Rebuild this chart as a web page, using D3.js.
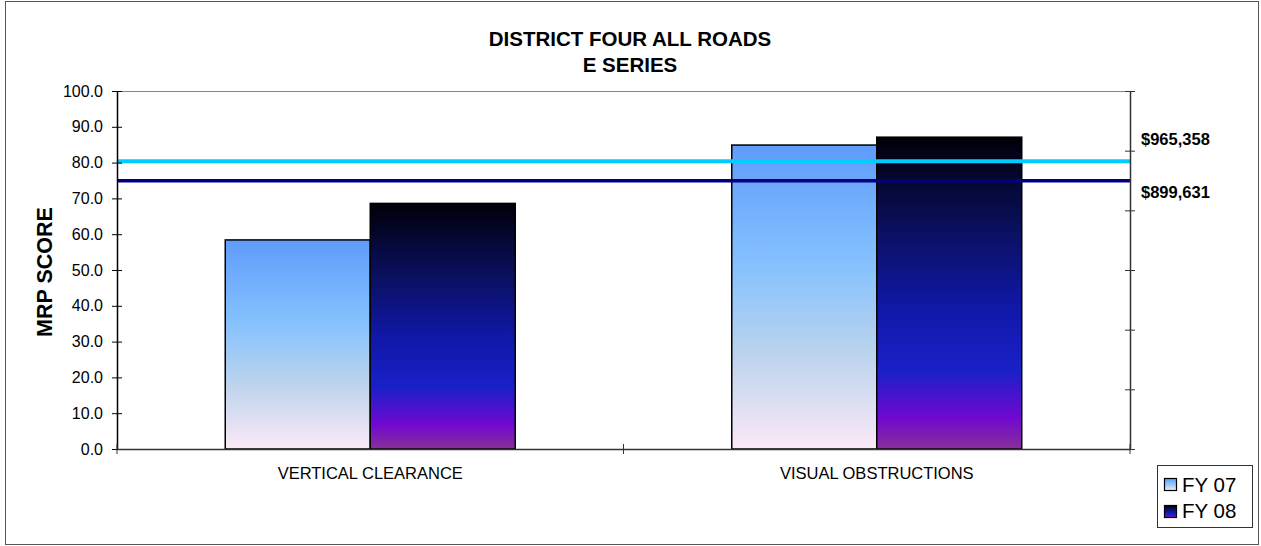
<!DOCTYPE html>
<html><head><meta charset="utf-8">
<script src="https://cdn.jsdelivr.net/npm/d3@7"></script>
<style>body{margin:0;background:#fff}svg{display:block;font-family:"Liberation Sans",Arial,sans-serif}</style>
</head><body>
<svg id="c" width="1261" height="546"></svg>
<script>
const categories = ["VERTICAL CLEARANCE", "VISUAL OBSTRUCTIONS"];
const seriesNames = ["FY 07", "FY 08"];
const fy07 = [58.4, 84.9];
const fy08 = [68.6, 87.1];
const refValues = [80.4, 74.9];
const refLabels = ["$965,358", "$899,631"];
const yTicks = [0,10,20,30,40,50,60,70,80,90,100];
const titleLines = ["DISTRICT FOUR ALL ROADS", "E SERIES"];

const svg = d3.select("#c");
const L = 117, R = 1130, T = 91, B = 449;
const FF = "'Liberation Sans',Arial,sans-serif";

// outer frame
svg.append("rect").attr("x",5.5).attr("y",1.5).attr("width",1253).attr("height",543)
  .attr("fill","#fff").attr("stroke","#555").attr("stroke-width",1);

const defs = svg.append("defs");
const g1 = defs.append("linearGradient").attr("id","g07").attr("x1",0).attr("y1",0).attr("x2",0).attr("y2",1);
[[0,"#5f9cfc"],[0.4,"#86c2fe"],[0.7,"#bed4ec"],[1,"#fbe9f7"]].forEach(s=>g1.append("stop").attr("offset",s[0]).attr("stop-color",s[1]));
const g2 = defs.append("linearGradient").attr("id","g08").attr("x1",0).attr("y1",0).attr("x2",0).attr("y2",1);
[[0,"#000008"],[0.3,"#0a1060"],[0.55,"#1018a8"],[0.75,"#1a20c8"],[0.9,"#7008d0"],[1,"#883098"]].forEach(s=>g2.append("stop").attr("offset",s[0]).attr("stop-color",s[1]));

const x0 = d3.scaleBand().domain(categories).range([L,R]).paddingInner(0).paddingOuter(0);
const y = d3.scaleLinear().domain([0,100]).range([B,T]);
const barW = 145;
const x1 = d3.scaleBand().domain(seriesNames).range([0, barW*2]);

// plot top border
svg.append("line").attr("x1",L).attr("x2",R).attr("y1",T+0.5).attr("y2",T+0.5).attr("stroke","#888");

const data = [fy07, fy08];
const fills = ["url(#g07)","url(#g08)"];
seriesNames.forEach((s,si)=>{
  svg.append("g").selectAll("rect").data(categories).join("rect")
    .attr("x", c => x0(c) + (x0.bandwidth()-barW*2)/2 + x1(s))
    .attr("y", (c,i) => y(data[si][i]))
    .attr("width", x1.bandwidth())
    .attr("height", (c,i) => B - y(data[si][i]))
    .attr("fill", fills[si]).attr("stroke","#000").attr("stroke-width",1.5);
});

// reference lines
const refColors = ["#00ccff","#000080"];
refValues.forEach((v,i)=>{
  svg.append("line").attr("x1",L).attr("x2",R).attr("y1",y(v)).attr("y2",y(v))
    .attr("stroke",refColors[i]).attr("stroke-width",i===0?4:3.5);
});
svg.append("text").attr("x",1141).attr("y",145).attr("font-size",16.5).attr("font-weight","bold").text(refLabels[0]);
svg.append("text").attr("x",1141).attr("y",198).attr("font-size",16.5).attr("font-weight","bold").text(refLabels[1]);

// left axis
const yAxis = svg.append("g").attr("transform",`translate(${L},0)`)
  .call(d3.axisLeft(y).tickValues(yTicks).tickFormat(d3.format(".1f")).tickSize(0).tickPadding(14));
yAxis.select(".domain").attr("stroke","#000").attr("stroke-width",1.5);
yAxis.selectAll("text").attr("font-size",16).attr("fill","#000").attr("font-family",FF);
yAxis.selectAll(".tick").append("line").attr("x1",-5).attr("x2",5).attr("stroke","#000");

// right axis
const yR = d3.scaleLinear().domain([0,6]).range([B,T]);
const rAxis = svg.append("g").attr("transform",`translate(${R},0)`)
  .call(d3.axisRight(yR).ticks(6).tickFormat("").tickSize(0));
rAxis.select(".domain").attr("stroke","#333").attr("stroke-width",1.5);
rAxis.selectAll(".tick").append("line").attr("x1",-5).attr("x2",5).attr("stroke","#333");

// bottom axis
const xAxis = svg.append("g").attr("transform",`translate(0,${B})`)
  .call(d3.axisBottom(x0).tickSize(0).tickPadding(0));
xAxis.select(".domain").attr("stroke","#333").attr("stroke-width",1.5);
xAxis.selectAll("text").attr("font-size",16.5).attr("fill","#000").attr("font-family",FF)
  .attr("dy",null).attr("y",30);
[L, x0(categories[1]), R].forEach(xx=>{
  svg.append("line").attr("x1",xx).attr("x2",xx).attr("y1",B-5).attr("y2",B+5).attr("stroke","#333");
});

// title
titleLines.forEach((t,i)=>{
  svg.append("text").attr("x",630).attr("y",46+i*26).attr("text-anchor","middle")
    .attr("font-size",20.5).attr("font-weight","bold").text(t);
});

// y label
svg.append("text").attr("transform","translate(52,272) rotate(-90)").attr("text-anchor","middle")
  .attr("font-size",21.5).attr("font-weight","bold").text("MRP SCORE");

// legend
const lg = svg.append("g");
lg.append("rect").attr("x",1157.5).attr("y",465.5).attr("width",95).attr("height",62)
  .attr("fill","#fff").attr("stroke","#333");
seriesNames.forEach((s,i)=>{
  lg.append("rect").attr("x",1164.5).attr("y",478.5+i*27).attr("width",12).attr("height",12)
    .attr("fill",fills[i]).attr("stroke","#000").attr("stroke-width",1.2);
  lg.append("text").attr("x",1182).attr("y",492+i*26).attr("font-size",20.5).text(s);
});
</script>
</body></html>
